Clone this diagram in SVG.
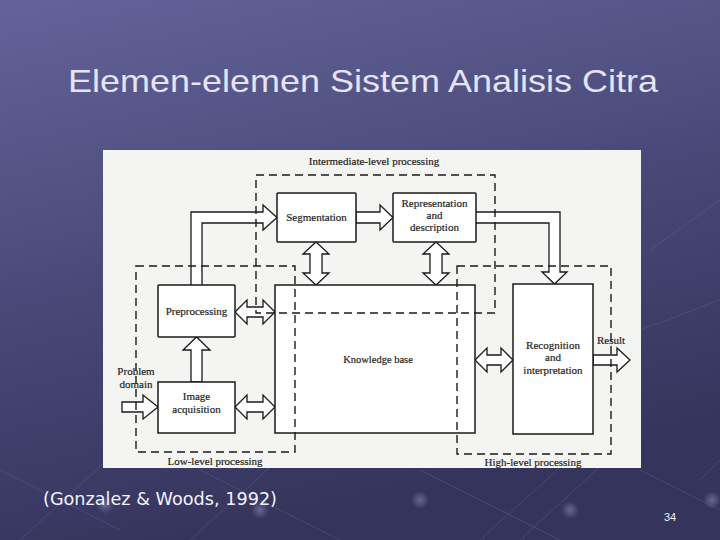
<svg xmlns="http://www.w3.org/2000/svg" width="720" height="540" viewBox="0 0 720 540">
<defs>
<linearGradient id="bg" x1="0" y1="0" x2="0.3" y2="1">
<stop offset="0" stop-color="#63639a"/>
<stop offset="0.5" stop-color="#4a4a7a"/>
<stop offset="1" stop-color="#34345c"/>
</linearGradient>
<radialGradient id="dot" cx="0.5" cy="0.5" r="0.5">
<stop offset="0" stop-color="#8888b0" stop-opacity="0.6"/>
<stop offset="1" stop-color="#8888b0" stop-opacity="0"/>
</radialGradient>
<style>
.box{fill:#ffffff;stroke:#1a1a1a;stroke-width:1.5}
.arr{fill:#ffffff;stroke:#1a1a1a;stroke-width:1.3;stroke-linejoin:miter}
.dash{fill:none;stroke:#1a1a1a;stroke-width:1.4;stroke-dasharray:8 5}
.t{font-family:"Liberation Serif","Times New Roman",serif;font-size:11px;fill:#1e1e1e;stroke:#1e1e1e;stroke-width:0.2;text-anchor:middle}
.deco{stroke:#7070a0;stroke-width:1;opacity:0.35;fill:none}
</style>
</defs>
<rect x="0" y="0" width="720" height="540" fill="url(#bg)"/>
<g id="decoration">
<path class="deco" d="M20 540 L140 430 M190 540 L300 440 M480 540 L590 440 M520 540 L640 430 M700 480 L720 460"/>
<path class="deco" d="M0 470 L120 530 M200 470 L340 540 M420 470 L560 540 M640 470 L720 510 M650 250 L720 200 M640 330 L720 300"/>
<circle cx="105" cy="505" r="9" fill="url(#dot)"/>
<circle cx="260" cy="510" r="9" fill="url(#dot)"/>
<circle cx="420" cy="500" r="9" fill="url(#dot)"/>
<circle cx="570" cy="510" r="9" fill="url(#dot)"/>
<circle cx="712" cy="500" r="9" fill="url(#dot)"/>
</g>
<text id="title" x="363" y="92" font-family="Liberation Sans, Arial, sans-serif" font-size="32" fill="#e4e4f4" text-anchor="middle" textLength="590" lengthAdjust="spacingAndGlyphs">Elemen-elemen Sistem Analisis Citra</text>
<rect id="figure-bg" x="103" y="150" width="538" height="318" fill="#f4f4f2"/>
<g id="connectors">
<polygon class="arr" points="356,212 380,212 380,205 393,217.5 380,230 380,223 356,223"/>
<path class="arr" d="M191,285 L191,212 L263,212 L263,205 L277,217.5 L263,230 L263,223 L202,223 L202,285"/>
<path class="arr" d="M476,212 L560,212 L560,272 L567,272 L554.5,284 L542,272 L549,272 L549,223 L476,223"/>
<polygon class="arr" points="316,242 329,254 322,254 322,273 329,273 316,285 303,273 310,273 310,254 303,254"/>
<polygon class="arr" points="436,242 449,254 442,254 442,273 449,273 436,285 423,273 430,273 430,254 423,254"/>
<polygon class="arr" points="235,312 247,300 247,307 263,307 263,300 275,312 263,324 263,317 247,317 247,324"/>
<polygon class="arr" points="235,407 247,395 247,402 263,402 263,395 275,407 263,419 263,412 247,412 247,419"/>
<polygon class="arr" points="475,360 487,348 487,355 501,355 501,348 513,360 501,372 501,365 487,365 487,372"/>
<polygon class="arr" points="191,382 191,350 183,350 196.5,337 210,350 202,350 202,382"/>
<polygon class="arr" points="122,402 143,402 143,395 158,407 143,419 143,412 122,412"/>
<polygon class="arr" points="593,355 617,355 617,348 630,360 617,372 617,365 593,365"/>
</g>
<g id="segmentation">
<rect class="box" x="277" y="193" width="79" height="49" rx="1"/>
<text class="t" x="316.5" y="221">Segmentation</text>
</g>
<g id="representation">
<rect class="box" x="393" y="193" width="83" height="49" rx="1"/>
<text class="t" x="434.5" y="207">Representation</text>
<text class="t" x="434.5" y="219">and</text>
<text class="t" x="434.5" y="231">description</text>
</g>
<g id="knowledge-base">
<rect class="box" x="275" y="285" width="200" height="148"/>
<text class="t" x="378" y="363" style="font-size:10.5px">Knowledge base</text>
</g>
<g id="preprocessing">
<rect class="box" x="158" y="285" width="77" height="52" rx="1"/>
<text class="t" x="196.5" y="315">Preprocessing</text>
</g>
<g id="image-acquisition">
<rect class="box" x="158" y="382" width="77" height="51"/>
<text class="t" x="196.5" y="400">Image</text>
<text class="t" x="196.5" y="413">acquisition</text>
</g>
<g id="recognition">
<rect class="box" x="513" y="284" width="80" height="150"/>
<text class="t" x="553" y="349">Recognition</text>
<text class="t" x="553" y="361">and</text>
<text class="t" x="553" y="374">interpretation</text>
</g>
<g id="labels">
<text class="t" x="136" y="375">Problem</text>
<text class="t" x="136" y="388">domain</text>
<text class="t" x="611" y="344">Result</text>
</g>
<g id="intermediate-level">
<rect class="dash" x="256" y="175" width="239" height="138"/>
<text class="t" x="374" y="165">Intermediate-level processing</text>
</g>
<g id="low-level">
<rect class="dash" x="136" y="266" width="159" height="186"/>
<text class="t" x="215" y="465">Low-level processing</text>
</g>
<g id="high-level">
<rect class="dash" x="457" y="266" width="154" height="188"/>
<text class="t" x="533" y="466">High-level processing</text>
</g>
<text id="caption" x="43" y="505" font-family="DejaVu Sans, Verdana, sans-serif" font-size="18" fill="#f2f2ff" textLength="234" lengthAdjust="spacingAndGlyphs">(Gonzalez &amp; Woods, 1992)</text>
<text id="page" x="670" y="521" font-family="Liberation Sans, Arial, sans-serif" font-size="11" fill="#f2f2ff" text-anchor="middle">34</text>
</svg>
